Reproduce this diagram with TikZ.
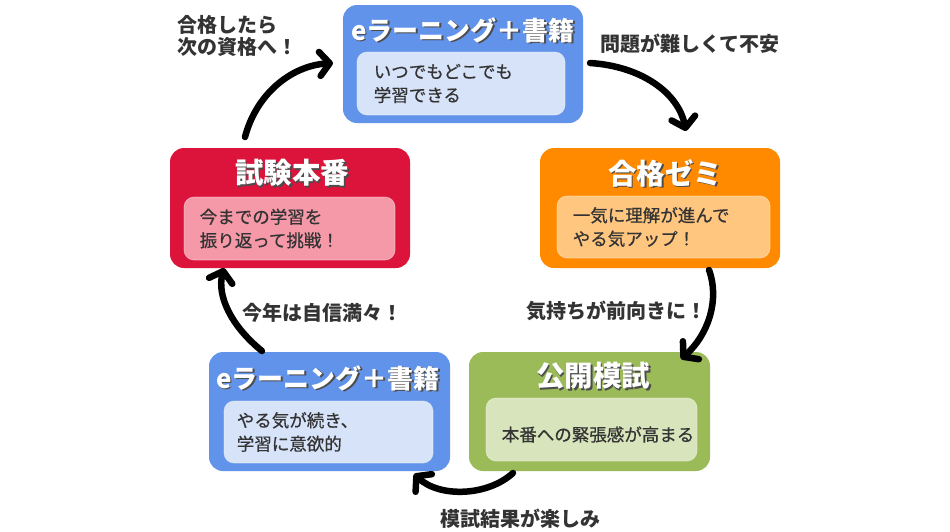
\documentclass[tikz,border=0pt]{standalone}
\usepackage{fontspec}
\setmainfont{Noto Sans CJK JP}
\newfontfamily\bodyfont{Noto Sans CJK JP}[FakeBold=0.6]
\usetikzlibrary{arrows.meta}
\definecolor{blueO}{HTML}{6293EA}
\definecolor{blueI}{HTML}{D7E3F9}
\definecolor{orangeO}{HTML}{FF8A00}
\definecolor{orangeI}{HTML}{FFC680}
\definecolor{redO}{HTML}{DC143C}
\definecolor{redI}{HTML}{F598A8}
\definecolor{greenO}{HTML}{9BBB59}
\definecolor{greenI}{HTML}{D8E4BC}
\definecolor{txt}{HTML}{333333}
\tikzset{
  outerbox/.style={rounded corners=14pt, draw=none, inner sep=0pt},
  innerbox/.style={rounded corners=10pt, draw=white, draw opacity=0.4, line width=0.8pt, inner sep=0pt},
  title/.style={text=white, font=\fontsize{26}{30}\selectfont\bfseries, inner sep=0pt},
  tshadow/.style={text=black!70, font=\fontsize{26}{30}\selectfont\bfseries, inner sep=0pt},
  big/.style={font=\fontsize{28.5}{32}\selectfont\bfseries},
  body/.style={text=txt, font=\fontsize{17.5}{23.5}\selectfont\bodyfont, align=left, anchor=west, inner sep=0pt},
  lbl/.style={text=txt, font=\fontsize{20}{22.5}\selectfont\bfseries, inner sep=0pt},
  cyc/.style={line width=6.5pt, line cap=round, -{Straight Barb[length=10pt,width=24pt,round]}}
}
\begin{document}
\begin{tikzpicture}[x=1pt,y=-1pt]
\useasboundingbox[fill=white] (0,0) rectangle (950,531);
% boxes
\node[outerbox, fill=blueO, minimum width=240pt, minimum height=118pt] (top) at (463,64) {};
\node[innerbox, fill=blueI, minimum width=208pt, minimum height=63pt] (topi) at (461,83.5) {};
\node[tshadow] at (464.5,31.5) {eラーニング＋書籍};
\node[title] (topt) at (463,30) {eラーニング＋書籍};
\node[body] (topb) at ([xshift=17pt]topi.west) {いつでもどこでも\\学習できる};

\node[outerbox, fill=orangeO, minimum width=240pt, minimum height=120pt] (ora) at (660,208) {};
\node[innerbox, fill=orangeI, minimum width=213pt, minimum height=62pt] (orai) at (663.5,227) {};
\node[tshadow, big] at (666.5,174.5) {合格ゼミ};
\node[title, big] (orat) at (665,173) {合格ゼミ};
\node[body] (orab) at ([xshift=16pt]orai.west) {一気に理解が進んで\\やる気アップ！};

\node[outerbox, fill=redO, minimum width=240pt, minimum height=120pt] (red) at (290,208) {};
\node[innerbox, fill=redI, minimum width=211pt, minimum height=63pt] (redi) at (289.5,228.5) {};
\node[tshadow, big] at (293.5,174.5) {試験本番};
\node[title, big] (redt) at (292,173) {試験本番};
\node[body] (redb) at ([xshift=16pt]redi.west) {今までの学習を\\振り返って挑戦！};

\node[outerbox, fill=blueO, minimum width=241pt, minimum height=119pt] (bot) at (329.5,411.5) {};
\node[innerbox, fill=blueI, minimum width=209pt, minimum height=62pt] (boti) at (328.5,432) {};
\node[tshadow] at (329.5,379.5) {eラーニング＋書籍};
\node[title] (bott) at (328,378) {eラーニング＋書籍};
\node[body] (botb) at ([xshift=13pt]boti.west) {やる気が続き、\\学習に意欲的};

\node[outerbox, fill=greenO, minimum width=241pt, minimum height=119pt] (grn) at (589.5,411.5) {};
\node[innerbox, fill=greenI, minimum width=211pt, minimum height=63pt] (grni) at (591.5,429.5) {};
\node[tshadow, big] at (594.5,377.5) {公開模試};
\node[title, big] (grnt) at (593,376) {公開模試};
\node[body] (grnb) at ([xshift=16pt,yshift=-5pt]grni.west) {本番への緊張感が高まる};

% connector end points
\coordinate (a1s) at (245,137);
\coordinate (a1e) at (333,63);
\coordinate (a2s) at (590,63);
\coordinate (a2e) at (686,131);
\coordinate (a3s) at (709,270);
\coordinate (a3e) at (681,359);
\coordinate (a4s) at (513,473);
\coordinate (a4e) at (414,474);
\coordinate (a5s) at (262,351);
\coordinate (a5e) at (224,268);

\draw[cyc] (a1s) .. controls (256,95) and (290,66) .. (a1e);
\draw[cyc] (a2s) .. controls (640,66) and (678,92) .. (a2e);
\draw[cyc] (a3s) .. controls (720,300) and (708,335) .. (a3e);
\draw[cyc] (a4s) .. controls (488,496) and (440,498) .. (a4e);
\draw[cyc] (a5s) .. controls (230,325) and (217,295) .. (a5e);

% labels
\node[lbl, align=left, anchor=north west] (l1) at (177,15) {合格したら\\次の資格へ！};
\node[lbl] (l2) at (690,44) {問題が難しくて不安};
\node[lbl] (l3) at (616,311) {気持ちが前向きに！};
\node[lbl] (l4) at (520,519) {模試結果が楽しみ};
\node[lbl] (l5) at (322,313) {今年は自信満々！};
\end{tikzpicture}
\end{document}
